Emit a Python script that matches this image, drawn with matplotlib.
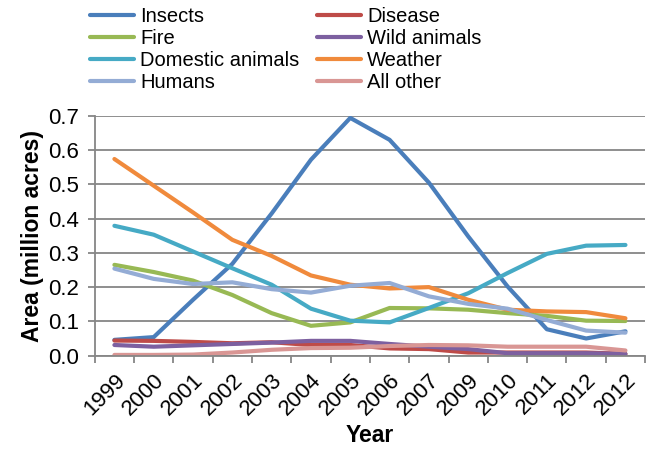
import matplotlib.pyplot as plt
import numpy as np

plt.rcParams['font.family'] = ['Liberation Sans', 'DejaVu Sans']

years = ['1999', '2000', '2001', '2002', '2003', '2004', '2005',
         '2006', '2007', '2009', '2010', '2011', '2012', '2012']

insects = [0.046, 0.054, 0.163, 0.268, 0.415, 0.572, 0.694,
           0.630, 0.505, 0.348, 0.202, 0.077, 0.050, 0.071]
disease = [0.044, 0.043, 0.040, 0.036, 0.039, 0.031, 0.031,
           0.021, 0.019, 0.009, 0.009, 0.009, 0.009, 0.005]
fire = [0.265, 0.244, 0.219, 0.177, 0.124, 0.087, 0.097,
        0.139, 0.138, 0.134, 0.124, 0.116, 0.102, 0.101]
wild_animals = [0.031, 0.026, 0.030, 0.034, 0.038, 0.043, 0.043,
                0.034, 0.026, 0.019, 0.007, 0.007, 0.007, 0.005]
domestic = [0.379, 0.353, 0.304, 0.255, 0.207, 0.137, 0.102,
            0.097, 0.139, 0.182, 0.241, 0.297, 0.321, 0.323]
weather = [0.574, 0.496, 0.418, 0.338, 0.291, 0.234, 0.207,
           0.196, 0.200, 0.163, 0.134, 0.129, 0.127, 0.109]
humans = [0.254, 0.224, 0.209, 0.214, 0.194, 0.184, 0.204,
          0.212, 0.173, 0.151, 0.137, 0.104, 0.073, 0.067]
all_other = [0.002, 0.002, 0.003, 0.009, 0.017, 0.022, 0.023,
             0.028, 0.031, 0.030, 0.026, 0.026, 0.026, 0.015]

series = [
    ('Insects', insects, '#4a7ebb'),
    ('Disease', disease, '#be4b48'),
    ('Fire', fire, '#98b954'),
    ('Wild animals', wild_animals, '#7d60a0'),
    ('Domestic animals', domestic, '#46aac5'),
    ('Weather', weather, '#f08a3c'),
    ('Humans', humans, '#94acd5'),
    ('All other', all_other, '#d99694'),
]

fig = plt.figure(figsize=(6.49, 4.49), dpi=100)
ax = fig.add_axes([0.146, 0.208, 0.848, 0.534])

x = np.arange(len(years))
handles = {}
for name, vals, color in series:
    line, = ax.plot(x, vals, color=color, lw=3, solid_capstyle='round',
                    solid_joinstyle='round', label=name)
    handles[name] = line

ax.set_xlim(-0.5, len(years) - 0.5)
ax.set_ylim(0, 0.7)
ax.set_yticks(np.arange(0, 0.71, 0.1))
ax.set_yticklabels(['%.1f' % v for v in np.arange(0, 0.71, 0.1)], fontsize=16)
ax.yaxis.grid(True, color='#868686', lw=1.3)
ax.set_axisbelow(True)

# ticks sit between categories, labels at category centres
ax.set_xticks(np.arange(-0.5, len(years) + 0.5, 1.0))
ax.set_xticklabels([])
ax.set_xticks(x, minor=True)
ax.set_xticklabels(years, minor=True, rotation=45, ha='right',
                   rotation_mode='anchor', fontsize=16)
ax.tick_params(axis='x', which='minor', length=0, pad=10)
ax.tick_params(axis='x', which='major', length=5, width=1.3, color='#868686')
ax.tick_params(axis='y', length=5, width=1.3, color='#868686', pad=6)

for side in ['top', 'right']:
    ax.spines[side].set_visible(False)
for side in ['left', 'bottom']:
    ax.spines[side].set_color('#868686')
    ax.spines[side].set_linewidth(1.3)

ax.set_ylabel('Area (million acres)', fontsize=16.5, fontweight='bold', labelpad=3)
ax.set_xlabel('Year', fontsize=16.5, fontweight='bold', labelpad=3)

order = ['Insects', 'Fire', 'Domestic animals', 'Humans',
         'Disease', 'Wild animals', 'Weather', 'All other']
fig.legend([handles[n] for n in order], order, ncol=2, loc='upper center',
           bbox_to_anchor=(0.44, 1.025), frameon=False, fontsize=14.5,
           handlelength=2.2, handletextpad=0.3, columnspacing=0.85,
           labelspacing=0.15)

fig.savefig('out.png', dpi=100)
